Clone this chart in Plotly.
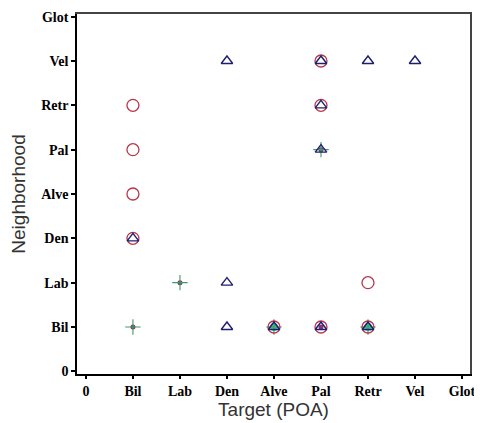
import plotly.graph_objects as go

tick_labels = ["0", "Bil", "Lab", "Den", "Alve", "Pal", "Retr", "Vel", "Glot"]
pos = {name: i for i, name in enumerate(tick_labels)}

# Series: (target, neighborhood) pairs
circle_x = ["Bil", "Bil", "Bil", "Bil", "Pal", "Pal", "Retr", "Alve", "Pal", "Retr"]
circle_y = ["Retr", "Pal", "Alve", "Den", "Vel", "Retr", "Lab", "Bil", "Bil", "Bil"]

tri_x = ["Bil", "Den", "Pal", "Retr", "Vel", "Pal", "Pal", "Den", "Den", "Alve", "Pal", "Retr"]
tri_y = ["Den", "Vel", "Vel", "Vel", "Vel", "Retr", "Pal", "Lab", "Bil", "Bil", "Bil", "Bil"]

plus_x = ["Bil", "Lab", "Pal", "Alve", "Retr"]
plus_y = ["Bil", "Lab", "Pal", "Bil", "Bil"]

purple_x = ["Bil", "Lab", "Pal", "Pal"]
purple_y = ["Bil", "Lab", "Pal", "Bil"]

teal_x = ["Alve", "Retr"]
teal_y = ["Bil", "Bil"]

def px(a):
    return [pos[v] for v in a]

fig = go.Figure()
fig.add_trace(go.Scatter(x=px(teal_x), y=px(teal_y), mode="markers",
                         marker=dict(symbol="circle", size=8, color="#3fc79c", line=dict(width=0))))
fig.add_trace(go.Scatter(x=px(purple_x), y=px(purple_y), mode="markers",
                         marker=dict(symbol="circle", size=5, color="#8a2f7a", line=dict(width=0))))
fig.add_trace(go.Scatter(x=px(plus_x), y=px(plus_y), mode="markers",
                         marker=dict(symbol="cross-thin", size=11, color="#3d9e63",
                                     line=dict(width=1.1, color="#3d9e63"))))
fig.add_trace(go.Scatter(x=px(circle_x), y=px(circle_y), mode="markers",
                         marker=dict(symbol="circle-open", size=12, color="#b8374a",
                                     line=dict(width=1.3, color="#b8374a"))))
fig.add_trace(go.Scatter(x=px(tri_x), y=px(tri_y), mode="markers",
                         marker=dict(symbol="triangle-up-open", size=10, color="#1f1f70",
                                     line=dict(width=1.4, color="#1f1f70"))))

tickfont = dict(family="Liberation Serif", size=14, color="black", weight="bold")
titlefont = dict(family="Liberation Sans", size=19, color="#333")
fig.update_layout(
    width=482, height=423,
    margin=dict(l=69, r=20, t=6, b=57),
    paper_bgcolor="white", plot_bgcolor="white",
    showlegend=False,
    xaxis=dict(range=[-0.19, 8.17], tickmode="array", tickvals=list(range(9)),
               ticktext=tick_labels, tickfont=tickfont, showgrid=False, zeroline=False,
               showline=True, linecolor="black", linewidth=1.5, mirror=False,
               ticks="outside", ticklen=3, tickwidth=2, tickcolor="black", automargin=False,
               title=dict(text="Target (POA)", font=titlefont, standoff=2)),
    yaxis=dict(range=[-0.06, 8.06], tickmode="array", tickvals=list(range(9)),
               ticktext=tick_labels, tickfont=tickfont, showgrid=False, zeroline=False,
               showline=True, linecolor="black", linewidth=1.5, mirror=False,
               ticks="outside", ticklen=4, tickwidth=2, tickcolor="black", automargin=False,
               title=dict(text="Neighborhood", font=titlefont, standoff=14)),
    xaxis2=dict(overlaying="x", side="top", range=[-0.19, 8.17], showticklabels=False,
                showgrid=False, zeroline=False, showline=True, linecolor="#444", linewidth=1.5,
                ticks="", automargin=False),
    yaxis2=dict(overlaying="y", side="right", range=[-0.06, 8.06], showticklabels=False,
                showgrid=False, zeroline=False, showline=True, linecolor="#444", linewidth=1.5,
                ticks="", automargin=False),
)
fig.add_trace(go.Scatter(x=[None], y=[None], xaxis="x2", yaxis="y2", showlegend=False, hoverinfo="skip"))

fig.write_html("out.html")
